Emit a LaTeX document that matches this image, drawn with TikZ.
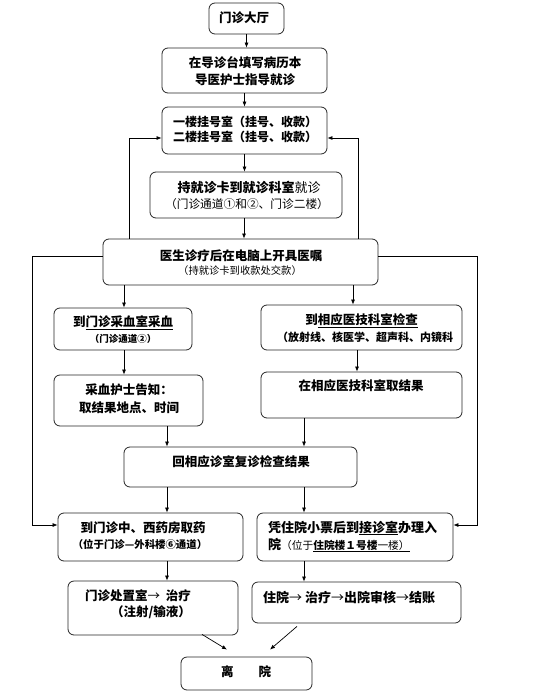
\documentclass[tikz,border=0pt]{standalone}
\usepackage{fontspec}
\setmainfont{Noto Sans CJK SC}
\usetikzlibrary{arrows.meta}
\begin{document}
\begin{tikzpicture}[x=1pt,y=-1pt,
  box/.style={draw=black!85, line width=0.8pt, rounded corners=6pt, inner sep=0pt},
  arr/.style={-{Latex[length=5pt,width=4pt]}, line width=0.7pt},
  ln/.style={line width=0.7pt},
  txt/.style={inner sep=0pt, align=center, font=\fontsize{12.5}{17}\selectfont\bfseries},
  small/.style={inner sep=0pt, align=center, font=\fontsize{10.5}{13}\selectfont\bfseries}]
\useasboundingbox[fill=white] (0,0) rectangle (541,693);
% boxes
\node[box, minimum width=75pt,  minimum height=31pt] (b1)  at (246.5,18.5) {};
\node[box, minimum width=165pt, minimum height=45pt] (b2)  at (244.5,70.5) {};
\node[box, minimum width=165pt, minimum height=47pt] (b3)  at (244.5,130.5) {};
\node[box, minimum width=192pt, minimum height=46pt] (b4)  at (246,195) {};
\node[box, minimum width=275pt, minimum height=46pt] (b5)  at (240.5,262) {};
\node[box, minimum width=138pt, minimum height=42pt] (b6)  at (123,329) {};
\node[box, minimum width=201pt, minimum height=45pt] (b7)  at (361.5,327.5) {};
\node[box, minimum width=149pt, minimum height=51pt] (b8)  at (128.5,400.5) {};
\node[box, minimum width=201pt, minimum height=46pt] (b9)  at (361.5,395) {};
\node[box, minimum width=233pt, minimum height=40pt] (b10) at (240.5,467) {};
\node[box, minimum width=185pt, minimum height=48pt] (b11) at (150.5,537) {};
\node[box, minimum width=196pt, minimum height=48pt] (b12) at (355,537) {};
\node[box, minimum width=170pt, minimum height=54pt] (b13) at (153,608) {};
\node[box, minimum width=209pt, minimum height=41pt] (b14) at (356.5,602.5) {};
\node[box, minimum width=131pt, minimum height=33pt] (b15) at (246.5,673.5) {};
% texts
\node[txt] (t1) at (244,18) {门诊大厅};
\node[txt] (t2) at (245,71.5) {在导诊台填写病历本\\导医护士指导就诊};
\node[txt, font=\fontsize{12}{15}\selectfont\bfseries] (t3) at (245,129.5) {一楼挂号室（挂号、收款）\\二楼挂号室（挂号、收款）};
\node[txt, font=\fontsize{13}{16}\selectfont\bfseries] (t4a) at (249,187) {持就诊卡到就诊科室{\mdseries 就诊}};
\node[txt, font=\fontsize{11.7}{14}\selectfont] (t4b) at (247,204) {（门诊通道①和②、门诊二楼）};
\node[txt] (t5a) at (241,255.5) {医生诊疗后在电脑上开具医嘱};
\node[small, font=\fontsize{10.3}{13}\selectfont] (t5b) at (240,271) {（持就诊卡到收款处交款）};
\node[txt] (t6a) at (123,323) {到\underline{门诊采血室采血}};
\node[small, font=\fontsize{9.5}{12}\selectfont\bfseries] (t6b) at (123,339) {（门诊通道②）};
\node[txt] (t7a) at (361.5,321) {到\underline{相应医技科室检查}};
\node[small, font=\fontsize{11}{13}\selectfont\bfseries, anchor=west] (t7b) at (277,337) {（放射线、核医学、超声科、内镜科};
\node[txt, font=\fontsize{12.5}{18}\selectfont\bfseries] (t8) at (129,399) {采血护士告知：\\取结果地点、时间};
\node[txt] (t9) at (361,386) {在相应医技科室取结果};
\node[txt] (t10) at (241,462) {回相应诊室复诊检查结果};
\node[txt] (t11a) at (143,528) {到门诊中、西药房取药};
\node[small, font=\fontsize{10.4}{13}\selectfont\bfseries] (t11b) at (140,545) {（位于门诊—外科楼⑥通道）};
\node[txt, anchor=west, font=\fontsize{13}{16}\selectfont\bfseries] (t12a) at (268,528) {凭住院小票后到\underline{接诊室}办理入};
\node[txt, anchor=west, font=\fontsize{13}{16}\selectfont\bfseries] (t12b) at (268,545) {院{\fontsize{10.7}{13}\selectfont\mdseries（位于\underline{\bfseries 住院楼１号楼{\mdseries 一楼）}}}};
\node[txt, anchor=west] (t13a) at (85,596) {门诊处置室{\mdseries →}\ \ 治疗};
\node[txt] (t13b) at (151,612) {（注射/输液）};
\node[txt, anchor=west, font=\fontsize{13}{16}\selectfont\bfseries] (t14) at (263,597) {住院{\mdseries →}\ 治疗{\mdseries →}出院审核{\mdseries →}结账};
\node[txt] (t15) at (246,672) {离　　院};
% connectors
\draw[arr] (b1.south) -- (b1.south |- b2.north);
\draw[arr] (b2.south) -- (b2.south |- b3.north);
\draw[arr] (b3.south) -- (b3.south |- b4.north);
\draw[arr] ([xshift=-2pt]b4.south) -- ([xshift=-2pt]b4.south |- b5.north);
% loops back to b3
\draw[arr] ([xshift=27pt]b5.north west) |- ([yshift=-7.5pt]b3.west);
\draw[arr] ([xshift=-20pt]b5.north east) |- ([yshift=-7.5pt]b3.east);
% outer lines to b11 and b12
\draw[arr] ([yshift=6pt]b5.west) -- ++(-70pt,0) |- ([yshift=12pt]b11.west);
\draw[arr] ([yshift=6pt]b5.east) -- ++(99pt,0) |- ([yshift=12pt]b12.east);
% b5 to b6, b7
\path ([xshift=1pt]b6.north) coordinate (c6) ([xshift=-8.5pt]b7.north) coordinate (c7);
\draw[arr] (c6 |- b5.south) -- (c6);
\draw[arr] (c7 |- b5.south) -- (c7);
% b6 to b8, b7 to b9
\draw[arr] (c6 |- b6.south) -- (c6 |- b8.north);
\path ([xshift=-4.5pt]b7.south) coordinate (c9);
\draw[arr] (c9) -- (c9 |- b9.north);
% to b10
\path ([xshift=-73.5pt]b10.north) coordinate (cl) ([xshift=63.5pt]b10.north) coordinate (cr);
\draw[arr] (cl |- b8.south) -- (cl);
\draw[arr] (cr |- b9.south) -- (cr);
% b10 to b11, b12
\draw[arr] (cl |- b10.south) -- (cl |- b11.north);
\draw[arr] (cr |- b10.south) -- (cr |- b12.north);
% b11 to b13, b12 to b14
\draw[arr] (cl |- b11.south) -- (cl |- b13.north);
\draw[arr] (cr |- b12.south) -- (cr |- b14.north);
% to b15
\draw[arr] ([xshift=49pt,yshift=1pt]b13.south) -- ([xshift=-19.5pt,yshift=7pt]b15.north);
\draw[arr] ([xshift=-59.5pt,yshift=-3pt]b14.south) -- ([xshift=23.5pt,yshift=7pt]b15.north);
\end{tikzpicture}
\end{document}
